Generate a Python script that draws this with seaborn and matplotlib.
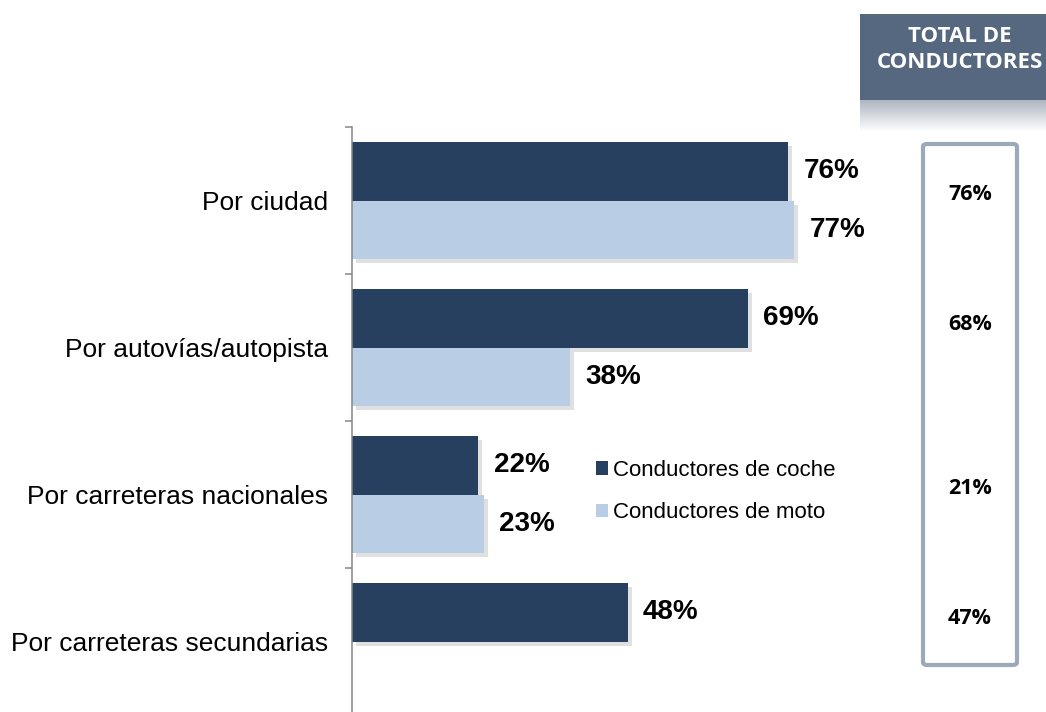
import numpy as np
import matplotlib.pyplot as plt
import matplotlib.patheffects as pe
from matplotlib.patches import Rectangle, FancyBboxPatch
from matplotlib.colors import LinearSegmentedColormap
import pandas as pd
import seaborn as sns

# data
categorias = ["Por ciudad", "Por autovías/autopista", "Por carreteras nacionales", "Por carreteras secundarias"]
coche = [76, 69, 22, 48]
moto = [77, 38, 23, np.nan]
total = [76, 68, 21, 47]
series = ["Conductores de coche", "Conductores de moto"]

df = pd.DataFrame({
    "cat": categorias * 2,
    "val": coche + moto,
    "serie": [series[0]] * 4 + [series[1]] * 4,
})

sns.set_style("white")
plt.rcParams['font.family'] = ['Liberation Sans', 'DejaVu Sans']
plt.rcParams['text.color'] = 'black'
plt.rcParams['ytick.color'] = 'black'

W, H = 1046, 712
fig = plt.figure(figsize=(W / 100, H / 100), dpi=100)

def fx(px):
    return px / W

def fy(py):
    return 1 - py / H

ax = fig.add_axes([fx(352), fy(715), fx(926) - fx(352), fy(127) - fy(715)])

sns.barplot(data=df, x="val", y="cat", hue="serie", orient="h",
            palette=["#27405F", "#B9CDE5"], width=0.8, saturation=1,
            errorbar=None, ax=ax, legend=True, linewidth=0)

shadow = [pe.SimplePatchShadow(offset=(3, -3), shadow_rgbFace="k", alpha=0.12), pe.Normal()]
for cont in ax.containers:
    for b in cont:
        b.set_path_effects(shadow)
    ax.bar_label(cont, fmt="{:.0f}%", padding=11, fontsize=20, fontweight="bold", color="black")

ax.set_xlim(0, 100)
ax.set_ylim(3.5, -0.5)
ax.set_xlabel("")
ax.set_ylabel("")
ax.set_xticks([])
ax.set_yticks(range(4))
ax.set_yticklabels(categorias, fontsize=19, color="black")
ax.set_yticks([-0.5, 0.5, 1.5, 2.5], minor=True)
ax.tick_params(axis="y", which="major", length=0, pad=17)
ax.tick_params(axis="y", which="minor", length=5, width=1.1, color="#868686", left=True)
for s in ["top", "right", "bottom"]:
    ax.spines[s].set_visible(False)
ax.spines["left"].set_color("#868686")
ax.spines["left"].set_linewidth(1.1)

handles, labels = ax.get_legend_handles_labels()
leg = ax.legend(handles, labels, loc="upper left", bbox_to_anchor=(fx(596), fy(460)),
                bbox_transform=fig.transFigure, frameon=False, fontsize=16,
                handlelength=0.55, handleheight=0.55, handletextpad=0.2,
                labelspacing=0.95, borderpad=0, borderaxespad=0)
for t in leg.get_texts():
    t.set_color("black")

# header "TOTAL DE CONDUCTORES"
fig.patches.append(Rectangle((fx(860), fy(100)), fx(1046) - fx(860), fy(14) - fy(100),
                             transform=fig.transFigure, facecolor="#55687F", edgecolor="none"))
gax = fig.add_axes([fx(860), fy(132), fx(1046) - fx(860), fy(100) - fy(132)])
grad = np.linspace(0, 1, 50).reshape(-1, 1)
gax.imshow(grad, aspect="auto", cmap=LinearSegmentedColormap.from_list("g", ["#AEB6C1", "#FFFFFF"]))
gax.axis("off")
fig.text(fx(960), fy(37), "TOTAL DE", ha="center", va="center", color="white",
         fontsize=16, fontweight="bold", family=["Open Sans", "DejaVu Sans"])
fig.text(fx(960), fy(63), "CONDUCTORES", ha="center", va="center", color="white",
         fontsize=16, fontweight="bold", family=["Open Sans", "DejaVu Sans"])

# box with totals
fig.patches.append(FancyBboxPatch((fx(923), fy(665)), fx(1017) - fx(923), fy(144) - fy(665),
                                  boxstyle="round,pad=0,rounding_size=0.004",
                                  transform=fig.transFigure, facecolor="white",
                                  edgecolor="#9CA9BA", linewidth=3))
for v, py in zip(total, [194, 324, 488, 618]):
    fig.text(fx(970), fy(py), f"{v}%", ha="center", va="center", fontsize=15.5,
             fontweight="bold", family=["Open Sans", "DejaVu Sans"])

fig.savefig("out.png", dpi=100)
